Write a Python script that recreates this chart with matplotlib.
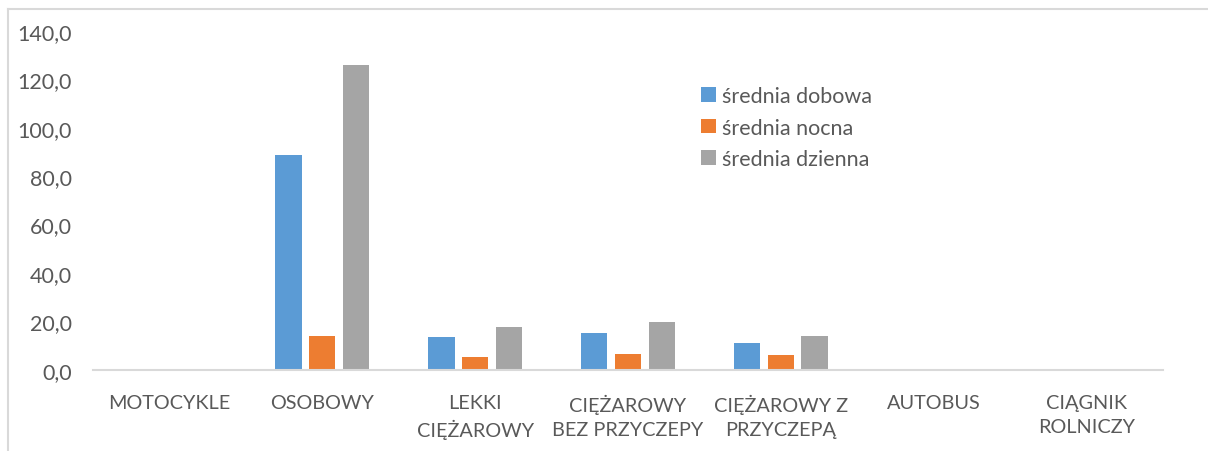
import numpy as np
import matplotlib.pyplot as plt
from matplotlib.lines import Line2D
from matplotlib.patches import Patch

categories = ['MOTOCYKLE', 'OSOBOWY', 'LEKKI\nCIĘŻAROWY', 'CIĘŻAROWY\nBEZ PRZYCZEPY',
              'CIĘŻAROWY Z\nPRZYCZEPĄ', 'AUTOBUS', 'CIĄGNIK\nROLNICZY']
srednia_dobowa = [0.0, 88.7, 13.7, 15.3, 11.3, 0.0, 0.0]
srednia_nocna = [0.0, 14.1, 5.4, 6.8, 6.0, 0.0, 0.0]
srednia_dzienna = [0.0, 125.7, 17.8, 19.7, 14.1, 0.0, 0.0]
series_names = ['średnia dobowa', 'średnia nocna', 'średnia dzienna']
yticks = [0, 20, 40, 60, 80, 100, 120, 140]

colors = ['#5B9BD5', '#ED7D31', '#A5A5A5']
text_color = '#595959'
plt.rcParams['font.family'] = ['Lato', 'DejaVu Sans']

W, H = 1208, 452
fig = plt.figure(figsize=(W / 100, H / 100), dpi=100)
ax = fig.add_axes([93 / W, 81 / H, 1070 / W, (371 - 31.7) / H])

x = np.arange(len(categories))
bw = 0.172
step = 0.221
for i, vals in enumerate([srednia_dobowa, srednia_nocna, srednia_dzienna]):
    ax.bar(x + (i - 1) * step, vals, width=bw, color=colors[i], zorder=2)

ax.set_xlim(-0.5, len(categories) - 0.5)
ax.set_ylim(0, 140)
ax.set_yticks(yticks)
ax.set_yticklabels([f'{v:.1f}'.replace('.', ',') for v in yticks])
ax.set_xticks(x)
ax.set_xticklabels(categories, linespacing=1.5)
ax.tick_params(axis='both', length=0, colors=text_color)
ax.tick_params(axis='x', pad=17, labelsize=14.3)
ax.tick_params(axis='y', pad=15, labelsize=15.5)

for side in ['top', 'right', 'left']:
    ax.spines[side].set_visible(False)
ax.spines['bottom'].set_color('#D9D9D9')
ax.spines['bottom'].set_linewidth(1.5)

handles = [Patch(facecolor=c, edgecolor='none') for c in colors]
leg = fig.legend(handles, series_names, loc='upper left',
                 bbox_to_anchor=(682 / W, 1 - 68 / H), frameon=False,
                 fontsize=15.5, handlelength=0.68, handleheight=0.68,
                 handletextpad=0.3, labelspacing=0.52)
for t in leg.get_texts():
    t.set_color(text_color)

# chart frame: top and left edges only
fig.add_artist(Line2D([8 / W, 1.0], [1 - 10 / H, 1 - 10 / H], color='#D9D9D9', lw=1.5))
fig.add_artist(Line2D([8 / W, 8 / W], [0, 1 - 10 / H], color='#D9D9D9', lw=1.5))

fig.savefig('out.png', dpi=100, facecolor='white')
